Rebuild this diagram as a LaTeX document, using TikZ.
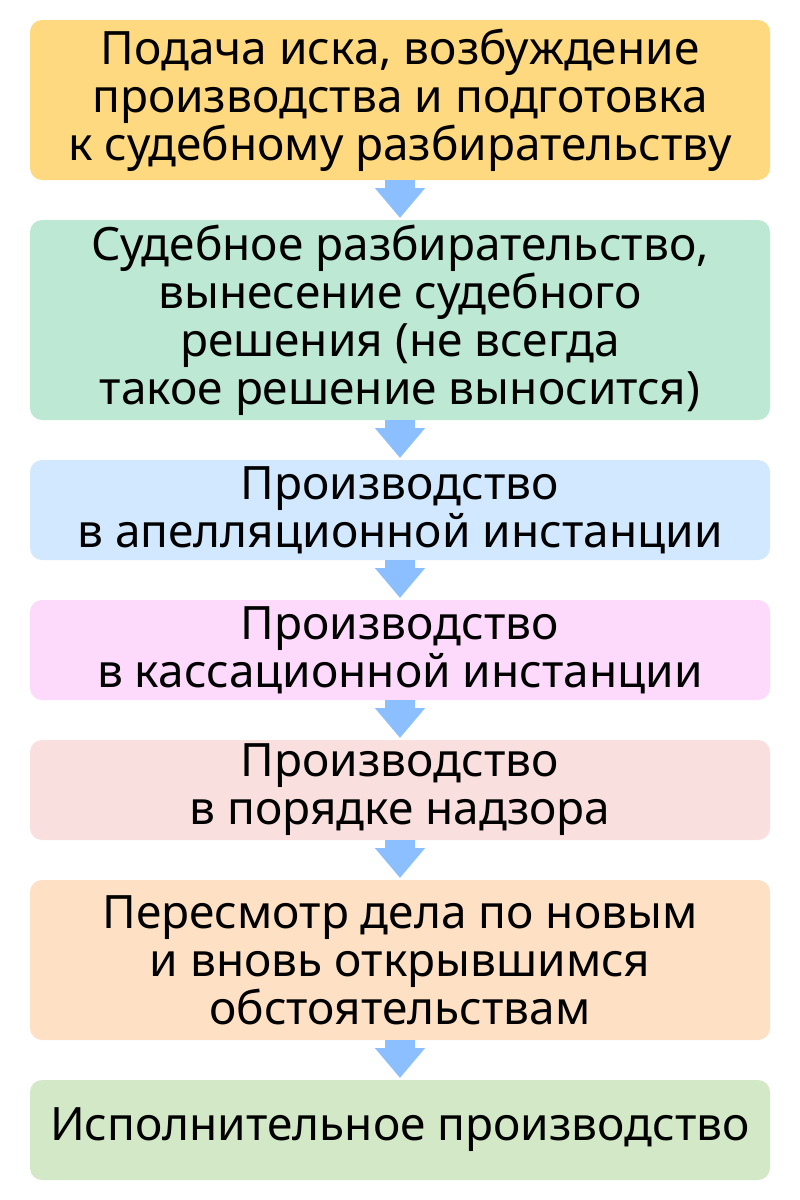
\documentclass[tikz,border=0pt]{standalone}
\usepackage{fontspec}
\setmainfont{Noto Sans}
\definecolor{c1}{HTML}{FFD97F}
\definecolor{c2}{HTML}{BDE8D3}
\definecolor{c3}{HTML}{D1E8FF}
\definecolor{c4}{HTML}{FDDAFC}
\definecolor{c5}{HTML}{F9E0DE}
\definecolor{c6}{HTML}{FEE0C4}
\definecolor{c7}{HTML}{D3E8C6}
\definecolor{arr}{HTML}{8CBFFF}
\tikzset{
  stagebox/.style={rounded corners=12pt, minimum width=740pt, inner sep=0pt, align=center,
    font=\fontsize{46pt}{48pt}\selectfont, text=black},
}
\newcommand{\blockarrow}[2]{%
  \fill[arr] ($(#1.south)+(-15pt,0)$) -- ++(0,-8pt) -- ++(-10pt,0) -- ($(#2.north)+(0,2pt)$)
    -- ($(#1.south)+(25pt,-8pt)$) -- ++(-10pt,0) -- ($(#1.south)+(15pt,0)$) -- cycle;}
\usetikzlibrary{calc}
\begin{document}
\begin{tikzpicture}[x=1pt,y=-1pt]
\useasboundingbox (0,0) rectangle (800,1200);
\node[stagebox, fill=c1, minimum height=160pt] (s1) at (400,100) {Подача иска, возбуждение\\производства и подготовка\\к судебному разбирательству};
\node[stagebox, fill=c2, minimum height=200pt] (s2) at (400,320) {Судебное разбирательство,\\вынесение судебного\\решения (не всегда\\такое решение выносится)};
\node[stagebox, fill=c3, minimum height=100pt] (s3) at (400,510) {Производство\\в апелляционной инстанции};
\node[stagebox, fill=c4, minimum height=100pt] (s4) at (400,650) {Производство\\в кассационной инстанции};
\node[stagebox, fill=c5, minimum height=100pt] (s5) at (400,790) {Производство\\в порядке надзора};
\node[stagebox, fill=c6, minimum height=160pt] (s6) at (400,960) {Пересмотр дела по новым\\и вновь открывшимся\\обстоятельствам};
\node[stagebox, fill=c7, minimum height=100pt] (s7) at (400,1130) {Исполнительное производство};
\blockarrow{s1}{s2}
\blockarrow{s2}{s3}
\blockarrow{s3}{s4}
\blockarrow{s4}{s5}
\blockarrow{s5}{s6}
\blockarrow{s6}{s7}
\end{tikzpicture}
\end{document}
